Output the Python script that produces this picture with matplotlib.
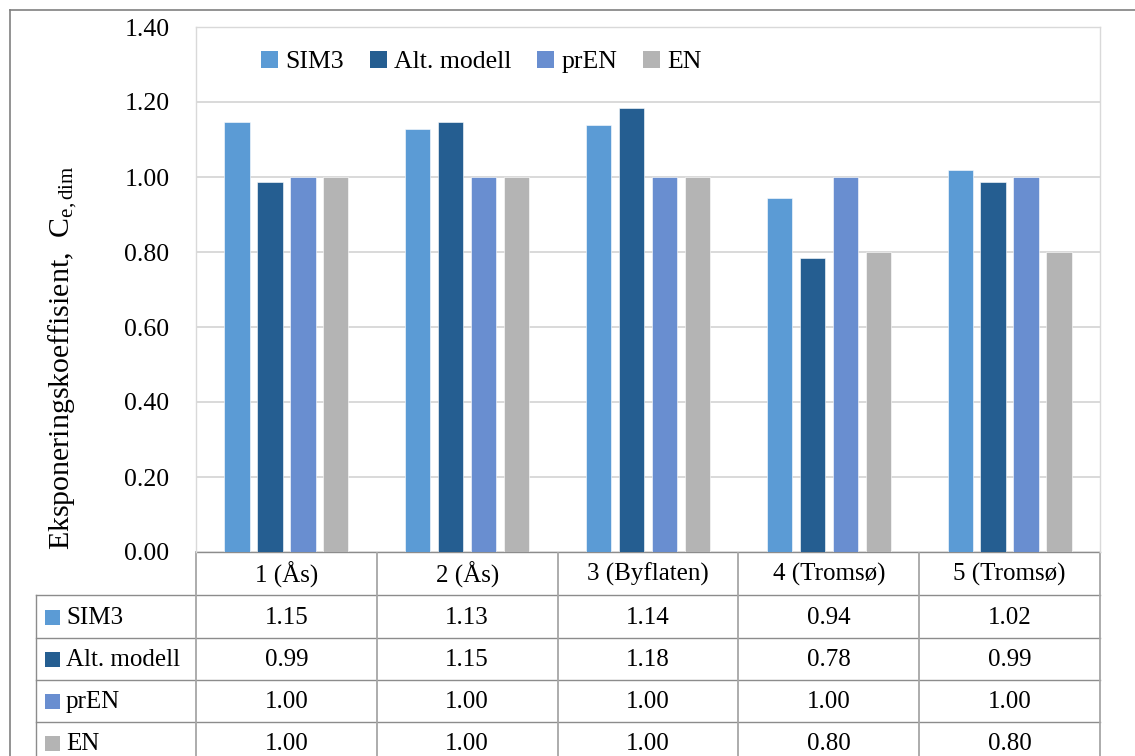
import numpy as np
import matplotlib
matplotlib.use("Agg")
import matplotlib.pyplot as plt
from matplotlib.patches import Patch, Rectangle
from matplotlib.lines import Line2D
from matplotlib.transforms import blended_transform_factory

plt.rcParams['font.family'] = ['Liberation Serif', 'DejaVu Serif']
plt.rcParams['mathtext.fontset'] = 'custom'
plt.rcParams['mathtext.rm'] = 'Liberation Serif'
plt.rcParams['mathtext.it'] = 'Liberation Serif:italic'

# data
categories = ["1 (Ås)", "2 (Ås)", "3 (Byflaten)", "4 (Tromsø)", "5 (Tromsø)"]
series_names = ["SIM3", "Alt. modell", "prEN", "EN"]
sim3 = [1.146, 1.127, 1.138, 0.944, 1.018]
alt_modell = [0.987, 1.148, 1.183, 0.784, 0.987]
pren = [1.00, 1.00, 1.00, 1.00, 1.00]
en = [1.00, 1.00, 1.00, 0.80, 0.80]
yticks = [0.0, 0.2, 0.4, 0.6, 0.8, 1.0, 1.2, 1.4]

series = [sim3, alt_modell, pren, en]
colors = ["#5B9BD5", "#255E91", "#698ED0", "#B4B4B4"]

W, H = 1135, 756
fig = plt.figure(figsize=(W / 100, H / 100), dpi=100)

# pixel overlay for table/border
pix = fig.add_axes([0, 0, 1, 1])
pix.set_xlim(0, W)
pix.set_ylim(H, 0)
pix.axis("off")

# plot area in pixels: left 196, right 1100, top 27, bottom 552
left, right, top, bottom = 196, 1100, 27, 552
ax = fig.add_axes([left / W, (H - bottom) / H, (right - left) / W,
                   (bottom - top) / H])

x = np.arange(len(categories))
bw = 0.14
step = 0.182
for i, (vals, col) in enumerate(zip(series, colors)):
    ax.bar(x + (i - 1.5) * step, vals, width=bw, color=col,
           edgecolor="white", linewidth=0.4, zorder=3, label=series_names[i])

ax.set_xlim(-0.5, len(categories) - 0.5)
ax.set_ylim(0, 1.4)
ax.set_yticks(yticks)
ax.set_yticklabels(["%.2f" % t for t in yticks], fontsize=18.5)
ax.tick_params(axis="y", length=0, pad=19)
ax.set_xticks([])
ax.grid(axis="y", color="#d9d9d9", linewidth=1.4, zorder=0)
for s in ["left", "right", "top"]:
    ax.spines[s].set_color("#d9d9d9")
    ax.spines[s].set_linewidth(1.0)
ax.spines["bottom"].set_visible(False)

handles = [Patch(facecolor=c, edgecolor="none") for c in colors]
ax.legend(handles, series_names, loc="center", bbox_to_anchor=(0.316, 0.933),
          ncol=4, frameon=False, fontsize=18.5, handlelength=0.65,
          handleheight=0.65, handletextpad=0.3, columnspacing=1.0)

# y label
pix.text(63, 358, "Eksponeringskoeffisient,  C$_{\\mathrm{e,dim}}$",
         rotation=90, ha="center", va="center", fontsize=21.5)

# data table
tr = blended_transform_factory(ax.transData, pix.transData)
row_edges = [552, 595, 638, 680, 722, 764]
line_col = "#8c8c8c"
tab_left = 36

# horizontal lines
pix.plot([left, right], [row_edges[0], row_edges[0]], color=line_col, lw=1.0)
for yv in row_edges[1:]:
    pix.plot([tab_left, right], [yv, yv], color=line_col, lw=1.0)
# vertical lines
pix.plot([tab_left, tab_left], [row_edges[1], row_edges[-1]], color=line_col, lw=1.0)
for k in range(len(categories) + 1):
    ax_x = k - 0.5
    pix.add_line(Line2D([ax_x, ax_x], [row_edges[0], row_edges[-1]],
                        transform=tr, color="#a6a6a6", lw=1.3))

# header
yc0 = (row_edges[0] + row_edges[1]) / 2 + 1
for i, cat in enumerate(categories):
    pix.text(i, yc0, cat, transform=tr, ha="center", va="center", fontsize=18)

# rows
for r, (name, vals, col) in enumerate(zip(series_names, series, colors)):
    yc = (row_edges[r + 1] + row_edges[r + 2]) / 2 + 1
    pix.add_patch(Rectangle((45, yc - 8), 15, 15, facecolor=col,
                            edgecolor="none"))
    pix.text(66, yc, name, ha="left", va="center", fontsize=18)
    for i, v in enumerate(vals):
        pix.text(i, yc, "%.2f" % v, transform=tr, ha="center", va="center",
                 fontsize=18)

# outer chart border
pix.plot([10, W], [10, 10], color="#808080", lw=1.2)
pix.plot([10, 10], [10, H], color="#808080", lw=1.2)

fig.savefig("out.png", dpi=100)
